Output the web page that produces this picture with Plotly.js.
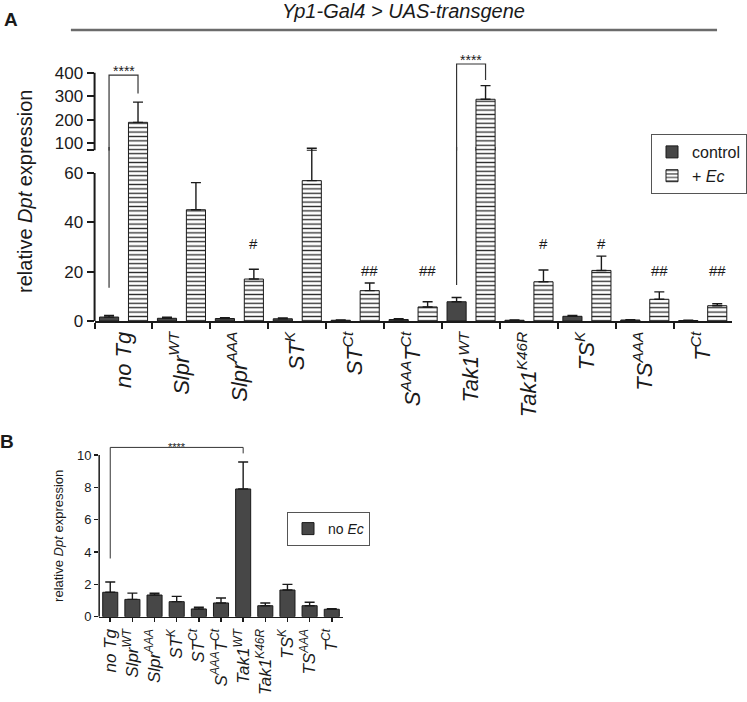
<!DOCTYPE html>
<html>
<head>
<meta charset="utf-8">
<script src="https://cdn.plot.ly/plotly-3.0.1.min.js"></script>
<style>
  html, body { margin: 0; padding: 0; background: #fff; }
  #chart { width: 747px; height: 702px; }
</style>
</head>
<body>
<div id="chart"></div>
<script>
// genotypes, same order in panel A and panel B
const genotypes = ['no Tg', 'Slpr WT', 'Slpr AAA', 'ST K', 'ST Ct', 'SAAA TCt',
  'Tak1 WT', 'Tak1 K46R', 'TS K', 'TS AAA', 'T Ct'];
const genotypeLabels = ['<i>no Tg</i>', '<i>Slpr<sup>WT</sup></i>', '<i>Slpr<sup>AAA</sup></i>',
  '<i>ST<sup>K</sup></i>', '<i>ST<sup>Ct</sup></i>', '<i>S<sup>AAA</sup>T<sup>Ct</sup></i>',
  '<i>Tak1<sup>WT</sup></i>', '<i>Tak1<sup>K46R</sup></i>', '<i>TS<sup>K</sup></i>',
  '<i>TS<sup>AAA</sup></i>', '<i>T<sup>Ct</sup></i>'];

// panel A - relative Dpt expression (mean, upper error)
const controlMean = [1.6, 1.1, 1.0, 0.9, 0.3, 0.6, 7.8, 0.3, 1.9, 0.4, 0.2];
const controlErr  = [0.7, 0.4, 0.3, 0.3, 0.1, 0.3, 1.7, 0.1, 0.4, 0.1, 0.1];
const ecMean = [189, 45.1, 17.0, 56.9, 12.3, 5.7, 287, 15.9, 20.5, 8.8, 6.2];
const ecErr  = [86, 11.0, 4.0, 13.1, 3.1, 2.1, 58, 4.8, 5.8, 3.0, 0.8];
const ecMarks = ['', '', '#', '', '##', '##', '', '#', '#', '##', '##'];

// panel B - no Ec
const noEcMean = [1.51, 1.07, 1.34, 0.93, 0.48, 0.85, 7.9, 0.68, 1.65, 0.68, 0.46];
const noEcErr  = [0.64, 0.39, 0.11, 0.33, 0.10, 0.31, 1.67, 0.17, 0.35, 0.21, 0.04];

// broken y axis of panel A
const lowTicks = [0, 20, 40, 60];
const highTicks = [100, 200, 300, 400];
const lowTop = 70.5, highBottom = 68, highTop = 475, breakTick = 70;

const W = 747, H = 702;
const px = v => v / W;
const py = v => 1 - v / H;
const zeros = genotypes.map(() => 0);
const font = 'Liberation Sans, Arial, sans-serif';
const ink = '#1a1a1a';

const errStyle = (arr) => ({
  type: 'data', symmetric: false, array: arr, arrayminus: zeros,
  color: ink, thickness: 1.4, width: 5
});
const ctrlMarker = { color: '#474747', line: { color: ink, width: 1 } };
const ecMarker = {
  color: 'white', line: { color: ink, width: 1 },
  pattern: { shape: '-', fgcolor: '#2b2b2b', bgcolor: 'white', size: 4.4, solidity: 0.3 }
};

const traces = [];
['y', 'y2'].forEach((ya, k) => {
  traces.push({
    type: 'bar', x: genotypes, y: controlMean, name: 'control', yaxis: ya, xaxis: 'x',
    marker: ctrlMarker, error_y: errStyle(controlErr), showlegend: k === 0,
    offsetgroup: 'c', legend: 'legend'
  });
  traces.push({
    type: 'bar', x: genotypes, y: ecMean, name: '+ <i>Ec</i>', yaxis: ya, xaxis: 'x',
    marker: ecMarker, error_y: errStyle(ecErr), showlegend: k === 0,
    offsetgroup: 'e', legend: 'legend'
  });
});
traces.push({
  type: 'bar', x: genotypes, y: noEcMean, name: 'no <i>Ec</i>', xaxis: 'x2', yaxis: 'y3',
  width: 0.68, marker: { color: '#474747', line: { color: ink, width: 1 } },
  error_y: errStyle(noEcErr), legend: 'legend2'
});

// significance brackets in panel A (left leg on control bar, right leg on Ec bar)
function bracketA(i, leftLow, top, rightLow) {
  const x0 = i - 0.25, x1 = i + 0.25;
  const st = { color: '#333', width: 1.2 };
  return [
    { type: 'line', xref: 'x', yref: 'y', x0: x0, x1: x0, y0: leftLow, y1: lowTop, line: st },
    { type: 'path', xref: 'x', yref: 'y2', line: st,
      path: `M${x0},${highBottom} L${x0},${top} L${x1},${top} L${x1},${rightLow}` }
  ];
}

const shapes = [
  { type: 'line', xref: 'paper', yref: 'paper', x0: px(71), x1: px(718), y0: py(30), y1: py(30),
    line: { color: '#6b6b6b', width: 2.5 } },
  { type: 'line', xref: 'x domain', yref: 'y', x0: 0, x1: 0, y0: 0, y1: lowTicks[3],
    line: { color: ink, width: 2 } },
  { type: 'line', xref: 'x domain', yref: 'y2', x0: 0, x1: 0, y0: breakTick, y1: highTicks[3],
    line: { color: ink, width: 2 } },
  { type: 'line', xref: 'x2 domain', yref: 'y3', x0: 0, x1: 0, y0: 0, y1: 10,
    line: { color: ink, width: 1.5 } },
  ...bracketA(0, 13.5, 390, 312),
  ...bracketA(6, 14.6, 437, 369),
  { type: 'path', xref: 'x2', yref: 'y3', line: { color: '#333', width: 1 },
    path: 'M0,3.6 L0,10.47 L6,10.47 L6,10.1' }
];

const txt = (text, xref, yref, x, y, size, extra) => Object.assign({
  text: text, xref: xref, yref: yref, x: x, y: y, showarrow: false,
  xanchor: 'center', yanchor: 'middle', font: { size: size, color: ink }
}, extra || {});

const annotations = [
  txt('<i>Yp1-Gal4 &gt; UAS-transgene</i>', 'paper', 'paper', px(404), py(11), 20),
  txt('<b>A</b>', 'paper', 'paper', px(11), py(19), 19),
  txt('<b>B</b>', 'paper', 'paper', px(7), py(441), 19),
  txt('relative <i>Dpt</i> expression', 'paper', 'paper', px(25), py(191), 20, { textangle: -90 }),
  txt('relative <i>Dpt</i> expression', 'paper', 'paper', px(58), py(536), 13, { textangle: -90 }),
  txt('****', 'x', 'y2', 0, 408, 14),
  txt('****', 'x', 'y2', 6, 455, 14),
  txt('****', 'x2', 'y3', 3, 10.5, 11)
];
ecMarks.forEach((m, i) => {
  if (!m) return;
  annotations.push(txt(m, 'x', 'y', i + 0.25, m === '#' ? 31.6 : 20.3, 15));
});

const yCommon = {
  showgrid: false, zeroline: false, showline: false, ticks: 'outside',
  tickcolor: ink, tickfont: { size: 17, color: ink }, fixedrange: true
};

const layout = {
  width: W, height: H,
  margin: { l: 0, r: 0, t: 0, b: 0 },
  paper_bgcolor: 'white', plot_bgcolor: 'rgba(0,0,0,0)',
  font: { family: font, color: ink },
  barmode: 'group', bargap: 0, bargroupgap: 0.34,
  xaxis: {
    domain: [px(94.7), px(732.7)], anchor: 'y', type: 'category', categoryarray: genotypes,
    range: [-0.5, 10.5], showline: true, linewidth: 2, linecolor: ink,
    ticks: 'outside', ticklen: 6, tickwidth: 2, tickcolor: ink, tickson: 'boundaries',
    tickmode: 'array', tickvals: genotypes, ticktext: genotypeLabels,
    tickangle: -90, tickfont: { size: 22, color: ink }, showgrid: false, zeroline: false
  },
  yaxis: Object.assign({}, yCommon, {
    domain: [py(321), py(147.08)], anchor: 'x', range: [0, lowTop],
    tickmode: 'array', tickvals: lowTicks, ticklen: 7, tickwidth: 2
  }),
  yaxis2: Object.assign({}, yCommon, {
    domain: [py(150.8), py(55.06)], anchor: 'x', range: [highBottom, highTop],
    tickmode: 'array', tickvals: [breakTick].concat(highTicks),
    ticktext: [''].concat(highTicks.map(String)), ticklen: 7, tickwidth: 2
  }),
  xaxis2: {
    domain: [px(99.3), px(343.3)], anchor: 'y3', type: 'category', categoryarray: genotypes,
    range: [-0.5, 10.5], showline: true, linewidth: 1.5, linecolor: ink,
    ticks: 'outside', ticklen: 4, tickwidth: 1.5, tickcolor: ink,
    tickmode: 'array', tickvals: genotypes, ticktext: genotypeLabels,
    tickangle: -90, tickfont: { size: 17, color: ink }, showgrid: false, zeroline: false
  },
  yaxis3: Object.assign({}, yCommon, {
    domain: [py(616.7), py(443.7)], anchor: 'x2', range: [0, 10.7],
    tickmode: 'array', tickvals: [0, 2, 4, 6, 8, 10], ticklen: 4, tickwidth: 1.5,
    tickfont: { size: 13, color: ink }
  }),
  legend: {
    x: px(652), y: py(134), xanchor: 'left', yanchor: 'top',
    bordercolor: '#555', borderwidth: 1, bgcolor: 'white',
    font: { size: 16, color: ink }, tracegroupgap: 0, itemwidth: 30
  },
  legend2: {
    x: px(287), y: py(512), xanchor: 'left', yanchor: 'top',
    bordercolor: '#555', borderwidth: 1, bgcolor: 'white',
    font: { size: 14, color: ink }, itemwidth: 30
  },
  shapes: shapes,
  annotations: annotations,
  showlegend: true
};

Plotly.newPlot('chart', traces, layout, { displayModeBar: false, staticPlot: true });
</script>
</body>
</html>
